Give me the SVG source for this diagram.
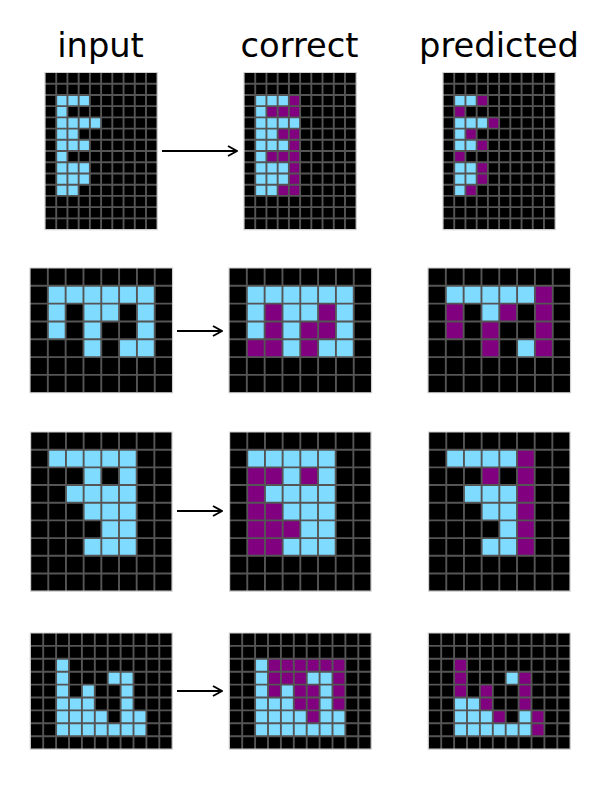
<svg xmlns="http://www.w3.org/2000/svg" xmlns:xlink="http://www.w3.org/1999/xlink" width="600" height="800" viewBox="0 0 600 800">
<style>
.t{font-family:"DejaVu Sans","Liberation Sans",sans-serif;font-size:33.7px;fill:#000;text-anchor:middle}
.bg{fill:#000}
.c{fill:#7FDBFF}
.p{fill:#800080}
.gl{fill:none;stroke:#555;stroke-width:1.9;vector-effect:non-scaling-stroke}
.bd{fill:none;stroke:#d0d0d0;stroke-width:1.2;vector-effect:non-scaling-stroke}
.ar{fill:none;stroke:#000;stroke-width:2}
</style>
<defs>
<path id="l1" class="gl" vector-effect="non-scaling-stroke" d="M1 0V14M2 0V14M3 0V14M4 0V14M5 0V14M6 0V14M7 0V14M8 0V14M9 0V14M0 1H10M0 2H10M0 3H10M0 4H10M0 5H10M0 6H10M0 7H10M0 8H10M0 9H10M0 10H10M0 11H10M0 12H10M0 13H10"/>
<path id="l2" class="gl" vector-effect="non-scaling-stroke" d="M1 0V7M2 0V7M3 0V7M4 0V7M5 0V7M6 0V7M7 0V7M0 1H8M0 2H8M0 3H8M0 4H8M0 5H8M0 6H8"/>
<path id="l3" class="gl" vector-effect="non-scaling-stroke" d="M1 0V9M2 0V9M3 0V9M4 0V9M5 0V9M6 0V9M7 0V9M0 1H8M0 2H8M0 3H8M0 4H8M0 5H8M0 6H8M0 7H8M0 8H8"/>
<path id="l4" class="gl" vector-effect="non-scaling-stroke" d="M1 0V9M2 0V9M3 0V9M4 0V9M5 0V9M6 0V9M7 0V9M8 0V9M9 0V9M10 0V9M0 1H11M0 2H11M0 3H11M0 4H11M0 5H11M0 6H11M0 7H11M0 8H11"/>
<marker id="ah" viewBox="0 0 12 12" refX="11" refY="6" markerWidth="12" markerHeight="12" markerUnits="userSpaceOnUse" orient="auto">
<path d="M2 1L11 6L2 11" fill="none" stroke="#000" stroke-width="2"/>
</marker>
</defs>

<g id="titles">
<text class="t" x="100.5" y="57">input</text>
<text class="t" x="299.5" y="57">correct</text>
<text class="t" x="499" y="57">predicted</text>
</g>

<!-- Row 1 -->
<g id="r1-input" transform="translate(45,72.5) scale(11.22)">
<rect class="bg" width="10" height="14"/>
<rect class="c" x="1" y="2" width="3" height="1"/>
<rect class="c" x="1" y="3" width="1" height="1"/>
<rect class="c" x="1" y="4" width="4" height="1"/>
<rect class="c" x="1" y="5" width="2" height="1"/>
<rect class="c" x="1" y="6" width="3" height="1"/>
<rect class="c" x="1" y="7" width="1" height="1"/>
<rect class="c" x="1" y="8" width="3" height="2"/>
<rect class="c" x="1" y="10" width="2" height="1"/>
<use href="#l1"/>
<rect class="bd" width="10" height="14"/>
</g>
<g id="r1-correct" transform="translate(244,72.5) scale(11.22)">
<rect class="bg" width="10" height="14"/>
<rect class="c" x="1" y="2" width="3" height="1"/><rect class="p" x="4" y="2" width="1" height="1"/>
<rect class="c" x="1" y="3" width="1" height="1"/><rect class="p" x="2" y="3" width="3" height="1"/>
<rect class="c" x="1" y="4" width="4" height="1"/>
<rect class="c" x="1" y="5" width="2" height="1"/><rect class="p" x="3" y="5" width="2" height="1"/>
<rect class="c" x="1" y="6" width="3" height="1"/><rect class="p" x="4" y="6" width="1" height="1"/>
<rect class="c" x="1" y="7" width="1" height="1"/><rect class="p" x="2" y="7" width="3" height="1"/>
<rect class="c" x="1" y="8" width="3" height="2"/><rect class="p" x="4" y="8" width="1" height="2"/>
<rect class="c" x="1" y="10" width="2" height="1"/><rect class="p" x="3" y="10" width="2" height="1"/>
<use href="#l1"/>
<rect class="bd" width="10" height="14"/>
</g>
<g id="r1-predicted" transform="translate(443,72.5) scale(11.22)">
<rect class="bg" width="10" height="14"/>
<rect class="c" x="1" y="2" width="2" height="1"/><rect class="p" x="3" y="2" width="1" height="1"/>
<rect class="p" x="1" y="3" width="1" height="1"/>
<rect class="c" x="1" y="4" width="3" height="1"/><rect class="p" x="4" y="4" width="1" height="1"/>
<rect class="c" x="1" y="5" width="1" height="1"/><rect class="p" x="2" y="5" width="1" height="1"/>
<rect class="c" x="1" y="6" width="2" height="1"/><rect class="p" x="3" y="6" width="1" height="1"/>
<rect class="p" x="1" y="7" width="1" height="1"/>
<rect class="c" x="1" y="8" width="2" height="2"/><rect class="p" x="3" y="8" width="1" height="2"/>
<rect class="c" x="1" y="10" width="1" height="1"/><rect class="p" x="2" y="10" width="1" height="1"/>
<use href="#l1"/>
<rect class="bd" width="10" height="14"/>
</g>

<!-- Row 2 -->
<g id="r2-input" transform="translate(30,268) scale(17.82)">
<rect class="bg" width="8" height="7"/>
<rect class="c" x="1" y="1" width="6" height="1"/>
<rect class="c" x="1" y="2" width="1" height="2"/>
<rect class="c" x="3" y="2" width="2" height="1"/>
<rect class="c" x="6" y="2" width="1" height="3"/>
<rect class="c" x="3" y="3" width="1" height="2"/>
<rect class="c" x="5" y="4" width="1" height="1"/>
<use href="#l2"/>
<rect class="bd" width="8" height="7"/>
</g>
<g id="r2-correct" transform="translate(229,268) scale(17.82)">
<rect class="bg" width="8" height="7"/>
<rect class="c" x="1" y="1" width="6" height="1"/>
<rect class="c" x="1" y="2" width="1" height="2"/>
<rect class="p" x="2" y="2" width="1" height="2"/>
<rect class="c" x="3" y="2" width="2" height="1"/>
<rect class="p" x="5" y="2" width="1" height="1"/>
<rect class="c" x="6" y="2" width="1" height="3"/>
<rect class="c" x="3" y="3" width="1" height="2"/>
<rect class="p" x="4" y="3" width="2" height="1"/>
<rect class="p" x="1" y="4" width="2" height="1"/>
<rect class="p" x="4" y="4" width="1" height="1"/>
<rect class="c" x="5" y="4" width="1" height="1"/>
<use href="#l2"/>
<rect class="bd" width="8" height="7"/>
</g>
<g id="r2-predicted" transform="translate(428,268) scale(17.82)">
<rect class="bg" width="8" height="7"/>
<rect class="c" x="1" y="1" width="5" height="1"/>
<rect class="p" x="6" y="1" width="1" height="4"/>
<rect class="p" x="1" y="2" width="1" height="2"/>
<rect class="c" x="3" y="2" width="1" height="1"/>
<rect class="p" x="4" y="2" width="1" height="1"/>
<rect class="p" x="3" y="3" width="1" height="2"/>
<rect class="c" x="5" y="4" width="1" height="1"/>
<use href="#l2"/>
<rect class="bd" width="8" height="7"/>
</g>

<!-- Row 3 -->
<g id="r3-input" transform="translate(30.6,432) scale(17.68)">
<rect class="bg" width="8" height="9"/>
<rect class="c" x="1" y="1" width="5" height="1"/>
<rect class="c" x="3" y="2" width="1" height="1"/>
<rect class="c" x="5" y="2" width="1" height="1"/>
<rect class="c" x="2" y="3" width="4" height="1"/>
<rect class="c" x="3" y="4" width="3" height="1"/>
<rect class="c" x="4" y="5" width="2" height="1"/>
<rect class="c" x="3" y="6" width="3" height="1"/>
<use href="#l3"/>
<rect class="bd" width="8" height="9"/>
</g>
<g id="r3-correct" transform="translate(229.6,432) scale(17.68)">
<rect class="bg" width="8" height="9"/>
<rect class="c" x="1" y="1" width="5" height="1"/>
<rect class="p" x="1" y="2" width="2" height="1"/><rect class="c" x="3" y="2" width="1" height="1"/><rect class="p" x="4" y="2" width="1" height="1"/><rect class="c" x="5" y="2" width="1" height="1"/>
<rect class="p" x="1" y="3" width="1" height="1"/><rect class="c" x="2" y="3" width="4" height="1"/>
<rect class="p" x="1" y="4" width="2" height="1"/><rect class="c" x="3" y="4" width="3" height="1"/>
<rect class="p" x="1" y="5" width="3" height="1"/><rect class="c" x="4" y="5" width="2" height="1"/>
<rect class="p" x="1" y="6" width="2" height="1"/><rect class="c" x="3" y="6" width="3" height="1"/>
<use href="#l3"/>
<rect class="bd" width="8" height="9"/>
</g>
<g id="r3-predicted" transform="translate(428.6,432) scale(17.68)">
<rect class="bg" width="8" height="9"/>
<rect class="c" x="1" y="1" width="4" height="1"/>
<rect class="p" x="5" y="1" width="1" height="6"/>
<rect class="p" x="3" y="2" width="1" height="1"/>
<rect class="c" x="2" y="3" width="3" height="1"/>
<rect class="c" x="3" y="4" width="2" height="1"/>
<rect class="c" x="4" y="5" width="1" height="1"/>
<rect class="c" x="3" y="6" width="2" height="1"/>
<use href="#l3"/>
<rect class="bd" width="8" height="9"/>
</g>

<!-- Row 4 -->
<g id="r4-input" transform="translate(30.3,633) scale(12.9)">
<rect class="bg" width="11" height="9"/>
<rect class="c" x="2" y="2" width="1" height="3"/>
<rect class="c" x="6" y="3" width="2" height="1"/>
<rect class="c" x="4" y="4" width="1" height="1"/>
<rect class="c" x="7" y="4" width="1" height="3"/>
<rect class="c" x="2" y="5" width="3" height="1"/>
<rect class="c" x="2" y="6" width="4" height="1"/>
<rect class="c" x="8" y="6" width="1" height="1"/>
<rect class="c" x="2" y="7" width="7" height="1"/>
<use href="#l4"/>
<rect class="bd" width="11" height="9"/>
</g>
<g id="r4-correct" transform="translate(229.3,633) scale(12.9)">
<rect class="bg" width="11" height="9"/>
<rect class="c" x="2" y="2" width="1" height="5"/>
<rect class="p" x="3" y="2" width="6" height="1"/>
<rect class="p" x="3" y="3" width="3" height="1"/><rect class="c" x="6" y="3" width="2" height="1"/><rect class="p" x="8" y="3" width="1" height="3"/>
<rect class="p" x="3" y="4" width="1" height="1"/><rect class="c" x="4" y="4" width="1" height="1"/><rect class="p" x="5" y="4" width="2" height="2"/><rect class="c" x="7" y="4" width="1" height="3"/>
<rect class="c" x="3" y="5" width="2" height="1"/>
<rect class="c" x="3" y="6" width="3" height="1"/><rect class="p" x="6" y="6" width="1" height="1"/><rect class="c" x="8" y="6" width="1" height="1"/>
<rect class="c" x="2" y="7" width="7" height="1"/>
<use href="#l4"/>
<rect class="bd" width="11" height="9"/>
</g>
<g id="r4-predicted" transform="translate(428.3,633) scale(12.9)">
<rect class="bg" width="11" height="9"/>
<rect class="p" x="2" y="2" width="1" height="3"/>
<rect class="c" x="6" y="3" width="1" height="1"/>
<rect class="p" x="7" y="3" width="1" height="3"/>
<rect class="p" x="4" y="4" width="1" height="2"/>
<rect class="c" x="2" y="5" width="2" height="1"/>
<rect class="c" x="2" y="6" width="3" height="1"/><rect class="p" x="5" y="6" width="1" height="1"/><rect class="c" x="7" y="6" width="1" height="1"/>
<rect class="p" x="8" y="6" width="1" height="2"/>
<rect class="c" x="2" y="7" width="6" height="1"/>
<use href="#l4"/>
<rect class="bd" width="11" height="9"/>
</g>

<g id="connectors">
<path class="ar" d="M162 151H237" marker-end="url(#ah)"/>
<path class="ar" d="M177 331H222" marker-end="url(#ah)"/>
<path class="ar" d="M177 511H222" marker-end="url(#ah)"/>
<path class="ar" d="M177 691H222" marker-end="url(#ah)"/>
</g>
</svg>
